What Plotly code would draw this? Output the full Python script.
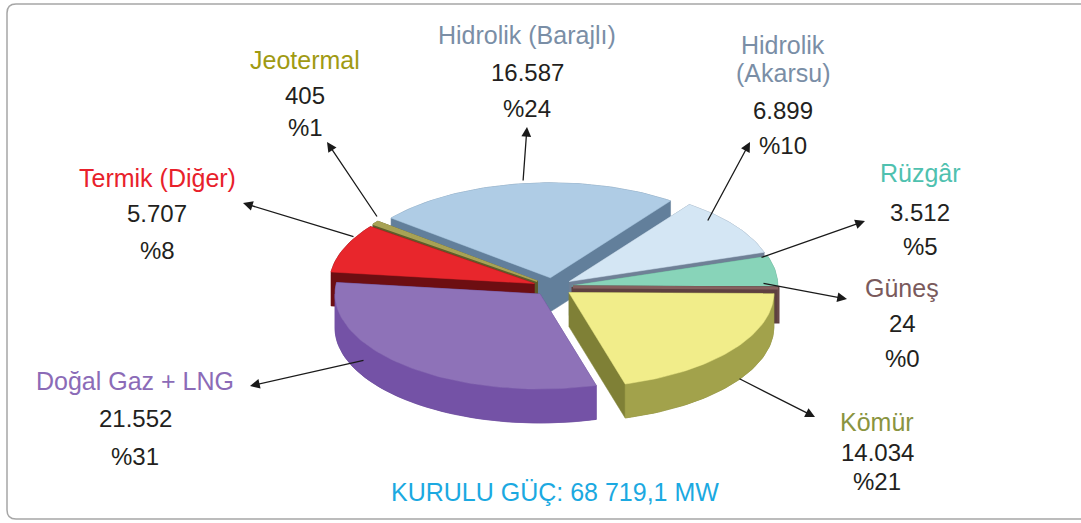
import numpy as np
import plotly.graph_objects as go

# Installed capacity by source (MW), clockwise from the top slice
sources = ["Hidrolik (Barajlı)", "Hidrolik (Akarsu)", "Rüzgâr", "Güneş",
           "Kömür", "Doğal Gaz + LNG", "Termik (Diğer)", "Jeotermal"]
capacity_mw = [16587, 6899, 3512, 24, 14034, 21552, 5707, 405]
share_pct = [24, 10, 5, 0, 21, 31, 8, 1]          # printed shares
total_label = "KURULU GÜÇ: 68 719,1 MW"

# --- styling -------------------------------------------------------------
W, H = 1081, 523
FONT = "Liberation Sans, Arial, sans-serif"
NUM_COLOR = "#231f20"

# (top face, outer wall, radial walls)
slice_colors = {
    "Hidrolik (Barajlı)": ("#afcce5", "#8eaecb", "#627f9b"),
    "Hidrolik (Akarsu)": ("#d4e6f4", "#a9bdd0", "#6f8096"),
    "Rüzgâr": ("#88d4b9", "#6cb9a1", "#4f907e"),
    "Güneş": ("#85605f", "#745252", "#5e4040"),
    "Kömür": ("#f1ed8a", "#a2a24b", "#7f8036"),
    "Doğal Gaz + LNG": ("#8e72b8", "#7452a6", "#583b8a"),
    "Termik (Diğer)": ("#e8262c", "#8e1419", "#6d0e12"),
    "Jeotermal": ("#a8a255", "#807d3b", "#5e5c2a"),
}
name_colors = {
    "Hidrolik (Barajlı)": "#7a8ea6",
    "Hidrolik (Akarsu)": "#7a8ea6",
    "Rüzgâr": "#4fc1af",
    "Güneş": "#7a5a5c",
    "Kömür": "#8a9440",
    "Doğal Gaz + LNG": "#8b6bb7",
    "Termik (Diğer)": "#e8212b",
    "Jeotermal": "#a09a12",
}
# label column x, line centres, arrow head and tail (pixels)
label_pos = {
    "Hidrolik (Barajlı)": dict(x=527, ys=[35, 72, 108], head=(527, 127), tail=(523, 182)),
    "Hidrolik (Akarsu)": dict(x=783, ys=[45, 73, 110, 145], head=(750, 142), tail=(707, 222)),
    "Rüzgâr": dict(x=920, ys=[173, 212, 246], head=(865, 221), tail=(760, 258)),
    "Güneş": dict(x=902, ys=[288, 323, 358], head=(847, 299), tail=(762, 283)),
    "Kömür": dict(x=877, ys=[422, 452, 481], head=(815, 417), tail=(738, 378)),
    "Doğal Gaz + LNG": dict(x=135, ys=[381, 418, 456], head=(250, 386), tail=(365, 360)),
    "Termik (Diğer)": dict(x=157, ys=[178, 213, 250], head=(243, 203), tail=(355, 237)),
    "Jeotermal": dict(x=305, ys=[60, 95, 127], head=(327, 142), tail=(378, 218)),
}

# pseudo-3D pie geometry (pixels)
CX, CY = 553, 287
RX, RY = 205, 95
DEPTH = 34
PULL = 20
ROTATION = -51.0   # angle where the first slice starts, clockwise from 12 o'clock


def convex_hull(pts):
    pts = sorted(set(pts))
    if len(pts) < 3:
        return pts

    def cross(o, a, b):
        return (a[0] - o[0]) * (b[1] - o[1]) - (a[1] - o[1]) * (b[0] - o[0])

    lower, upper = [], []
    for p in pts:
        while len(lower) >= 2 and cross(lower[-2], lower[-1], p) <= 0:
            lower.pop()
        lower.append(p)
    for p in reversed(pts):
        while len(upper) >= 2 and cross(upper[-2], upper[-1], p) <= 0:
            upper.pop()
        upper.append(p)
    return lower[:-1] + upper[:-1]


def arc(t0, t1, dx, dy, drop=0.0, n=None):
    n = n or max(3, int(abs(t1 - t0) / 1.5) + 2)
    t = np.radians(np.linspace(t0, t1, n))
    return (CX + dx + RX * np.sin(t), CY + dy - RY * np.cos(t) + drop)


vals = np.array(capacity_mw, dtype=float)
spans = vals / vals.sum() * 360.0
starts = ROTATION + np.concatenate([[0], np.cumsum(spans)[:-1]])
ends = starts + spans
mids = (starts + ends) / 2

fig = go.Figure()

# draw from the back of the pie to the front
order = np.argsort(-np.cos(np.radians(mids)))
for i in order:
    name = sources[i]
    top_c, wall_c, dark_c = slice_colors[name]
    m = np.radians(mids[i])
    dx = PULL * np.sin(m)
    dy = -PULL * np.cos(m) * RY / RX
    ax_, ay_ = arc(starts[i], ends[i], dx, dy)
    top_x = np.concatenate([[CX + dx], ax_])
    top_y = np.concatenate([[CY + dy], ay_])
    pts = [(float(x), float(y)) for x, y in zip(top_x, top_y)]
    pts += [(x, y + DEPTH) for x, y in pts]
    hull = convex_hull(pts)
    hull.append(hull[0])
    lw = 3 if spans[i] < 1 else (1.5 if spans[i] < 5 else 0)
    fig.add_trace(go.Scatter(
        x=[p[0] for p in hull], y=[p[1] for p in hull], mode="lines",
        fill="toself", fillcolor=dark_c,
        line=dict(color=dark_c, width=lw if lw else 0.5),
        hoverinfo="skip", showlegend=False))

    # outer curved wall on the front half (90..270 deg)
    s, e = starts[i] % 360, starts[i] % 360 + spans[i]
    for off in (0, 360, -360):
        lo, hi = max(s + off, 90), min(e + off, 270)
        if hi > lo:
            wx, wy = arc(lo, hi, dx, dy)
            bx, by = arc(lo, hi, dx, dy, DEPTH)
            fig.add_trace(go.Scatter(
                x=np.concatenate([wx, bx[::-1], wx[:1]]),
                y=np.concatenate([wy, by[::-1], wy[:1]]),
                mode="lines", fill="toself", fillcolor=wall_c,
                line=dict(color=wall_c, width=0.5),
                hoverinfo="skip", showlegend=False))

    fig.add_trace(go.Scatter(
        x=np.concatenate([top_x, top_x[:1]]), y=np.concatenate([top_y, top_y[:1]]),
        mode="lines", fill="toself", fillcolor=top_c,
        line=dict(color=top_c, width=lw if lw else 0.5),
        name=name, hoverinfo="skip", showlegend=False))

# labels and arrows
annotations = []
for name, v, pct in zip(sources, capacity_mw, share_pct):
    lp = label_pos[name]
    name_lines = ["Hidrolik", "(Akarsu)"] if name == "Hidrolik (Akarsu)" else [name]
    lines = [(t, name_colors[name], 25) for t in name_lines]
    lines += [(f"{v:,}".replace(",", "."), NUM_COLOR, 24), (f"%{pct}", NUM_COLOR, 24)]
    for (txt, col, fs), y in zip(lines, lp["ys"]):
        annotations.append(dict(x=lp["x"], y=y, xref="x", yref="y", text=txt,
                                showarrow=False, xanchor="center", yanchor="middle",
                                font=dict(family=FONT, size=fs, color=col)))
    annotations.append(dict(x=lp["head"][0], y=lp["head"][1], xref="x", yref="y",
                            ax=lp["tail"][0], ay=lp["tail"][1], axref="x", ayref="y",
                            text="", showarrow=True, arrowhead=2, arrowsize=1.5,
                            arrowwidth=1.3, arrowcolor="#1a1a1a"))

annotations.append(dict(x=555, y=492, xref="x", yref="y", text=total_label,
                        showarrow=False, xanchor="center", yanchor="middle",
                        font=dict(family=FONT, size=25, color="#1ba9e1")))

fig.update_layout(
    width=W, height=H, autosize=False,
    margin=dict(l=0, r=0, t=0, b=0),
    paper_bgcolor="white", plot_bgcolor="white",
    xaxis=dict(range=[0, W], visible=False, fixedrange=True),
    yaxis=dict(range=[H, 0], visible=False, fixedrange=True),
    annotations=annotations,
    shapes=[dict(type="path", xref="x", yref="y",
                 path="M 16,4 L 1100,4 L 1100,519 L 16,519 Q 7,519 7,510 L 7,13 Q 7,4 16,4 Z",
                 line=dict(color="#a6a6a6", width=1.5), fillcolor="rgba(0,0,0,0)")],
)

fig.write_html("out.html", config=dict(displayModeBar=False))
